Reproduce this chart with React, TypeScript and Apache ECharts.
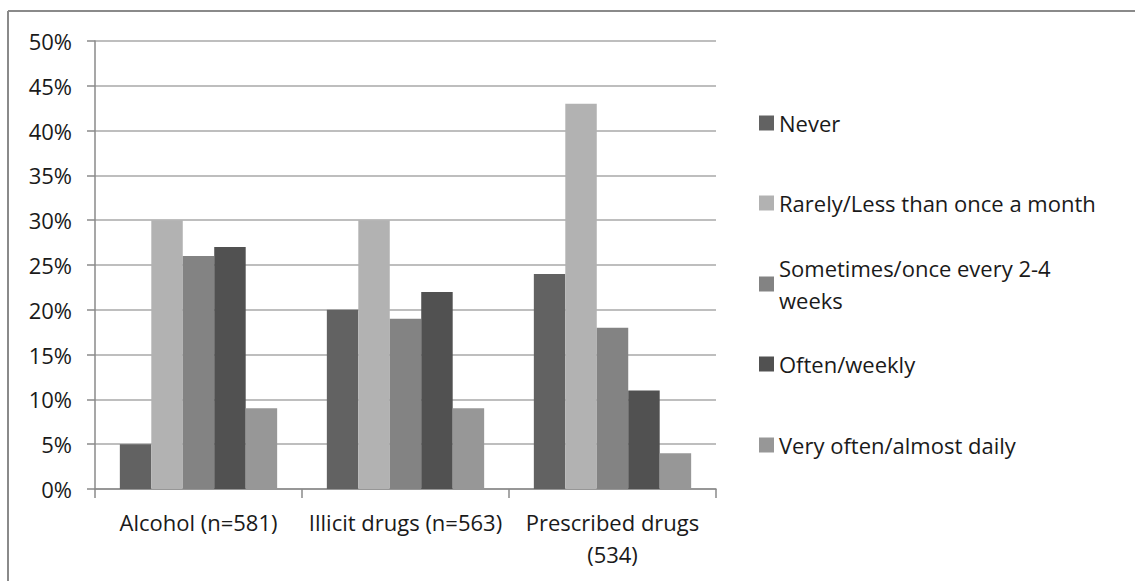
import React, { useEffect, useRef } from "react";
import * as echarts from "echarts";

const categories = ["Alcohol (n=581)", "Illicit drugs (n=563)", "Prescribed drugs (534)"];
const seriesNames = [
  "Never",
  "Rarely/Less than once a month",
  "Sometimes/once every 2-4 weeks",
  "Often/weekly",
  "Very often/almost daily",
];
const never = [5, 20, 24];
const rarely = [30, 30, 43];
const sometimes = [26, 19, 18];
const often = [27, 22, 11];
const veryOften = [9, 9, 4];
const yTicks = [0, 5, 10, 15, 20, 25, 30, 35, 40, 45, 50];

const colors = ["#626262", "#b2b2b2", "#838383", "#515151", "#979797"];
const legendCenters = [123, 203, 284, 364, 445];

export default function App() {
  const ref = useRef<HTMLDivElement>(null);
  useEffect(() => {
    document.body.style.margin = "0";
    const chart = echarts.init(ref.current!, undefined, { renderer: "svg" });
    const values = [never, rarely, sometimes, often, veryOften];
    const font = "Open Sans";
    const textColor = "#1a1a1a";
    const fs = 22;
    const lh = 32;
    const legends = seriesNames.map((name, i) => {
      const twoLine = name.startsWith("Sometimes");
      return {
        data: [name],
        orient: "vertical",
        left: 759,
        top: twoLine ? legendCenters[i] - lh * 1.5 : legendCenters[i] - lh / 2,
        padding: 0,
        itemWidth: 15,
        itemHeight: 15,
        icon: "rect",
        selectedMode: false,
        formatter: (n: string) => (n.startsWith("Sometimes") ? n.replace(" weeks", "\nweeks") : n),
        textStyle: {
          fontFamily: font,
          fontSize: fs,
          color: textColor,
          lineHeight: lh,
          padding: twoLine ? [lh, 0, 0, 0] : 0,
        },
      };
    });
    chart.setOption({
      animation: false,
      textStyle: { fontFamily: font },
      grid: { left: 95, right: 1135 - 716, top: 41, bottom: 581 - 489, containLabel: false },
      legend: legends,
      graphic: [
        {
          type: "line",
          shape: { x1: 8, y1: 11, x2: 1135, y2: 11 },
          style: { stroke: "#8a8a8a", lineWidth: 2 },
        },
        {
          type: "line",
          shape: { x1: 8, y1: 11, x2: 8, y2: 581 },
          style: { stroke: "#8a8a8a", lineWidth: 2 },
        },
      ],
      xAxis: {
        type: "category",
        data: categories,
        axisLine: { lineStyle: { color: "#8a8a8a", width: 1.5 } },
        axisTick: { show: true, length: 9, lineStyle: { color: "#8a8a8a", width: 1.5 } },
        axisLabel: {
          margin: 17,
          fontFamily: font,
          fontSize: fs,
          lineHeight: lh,
          color: textColor,
          interval: 0,
          formatter: (v: string) => (v.length > 21 ? v.replace(" (", "\n(") : v),
        },
      },
      yAxis: {
        type: "value",
        min: 0,
        max: yTicks[yTicks.length - 1],
        interval: 5,
        axisLine: { show: true, lineStyle: { color: "#8a8a8a", width: 1.5 } },
        axisTick: { show: true, length: 8, lineStyle: { color: "#8a8a8a", width: 1.5 } },
        splitLine: { lineStyle: { color: "#a9a9a9", width: 1.5 } },
        axisLabel: {
          margin: 23,
          fontFamily: font,
          fontSize: fs,
          color: textColor,
          formatter: "{value}%",
        },
      },
      series: seriesNames.map((name, i) => ({
        name,
        type: "bar",
        data: values[i],
        barGap: "0%",
        barCategoryGap: "24%",
        itemStyle: { color: colors[i] },
      })),
    });
    return () => chart.dispose();
  }, []);
  return <div ref={ref} style={{ width: 1135, height: 581 }} />;
}
